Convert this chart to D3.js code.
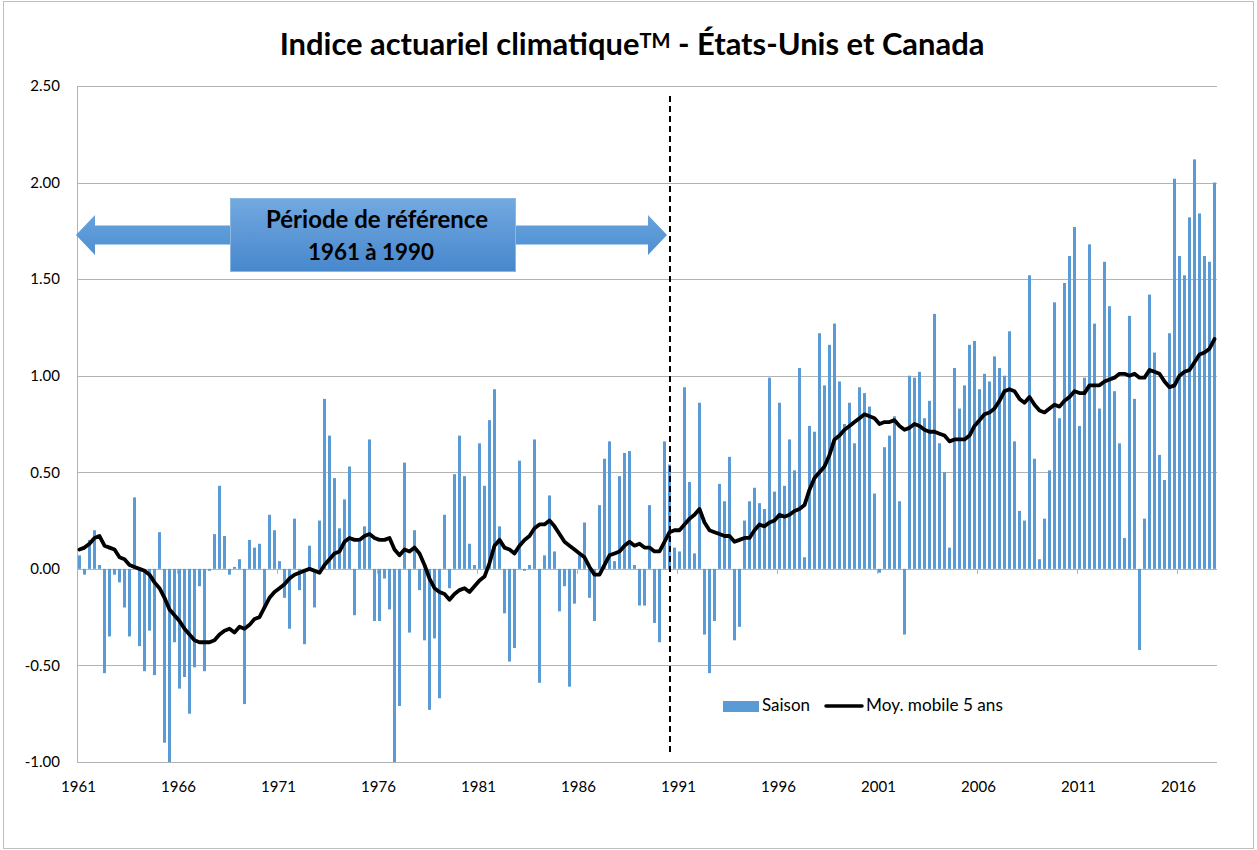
<!DOCTYPE html>
<html lang="fr">
<head>
  <meta charset="utf-8">
  <title>Indice actuariel climatique - États-Unis et Canada</title>
  <script src="https://d3js.org/d3.v7.min.js"></script>
  <style>
    body { margin: 0; background: #fff; }
    svg text { font-family: Lato, "Open Sans", sans-serif; fill: #000; }
  </style>
</head>
<body>
<svg id="chart" width="1257" height="850"></svg>
<script>

// valeurs saisonnieres, hiver 1961 -> automne 2017 (4 saisons par annee)
var saison = [
  0.07, -0.03, 0.15, 0.20, 0.02, -0.54, -0.35, -0.03, -0.07, -0.20, -0.35, 0.37, -0.40, -0.53, -0.32, -0.55, 0.19, -0.90, -1.00, -0.38,
  -0.62, -0.56, -0.75, -0.51, -0.09, -0.53, -0.01, 0.18, 0.43, 0.17, -0.03, 0.01, 0.05, -0.70, 0.15, 0.11, 0.13, -0.20, 0.28, 0.20,
  0.04, -0.15, -0.31, 0.26, -0.11, -0.39, 0.12, -0.20, 0.25, 0.88, 0.69, 0.47, 0.21, 0.36, 0.53, -0.24, 0.14, 0.22, 0.67, -0.27,
  -0.27, -0.05, -0.21, -1.00, -0.71, 0.55, -0.33, 0.20, -0.11, -0.37, -0.73, -0.36, -0.67, 0.28, -0.10, 0.49, 0.69, 0.48, 0.13, 0.02,
  0.65, 0.43, 0.77, 0.93, 0.22, -0.23, -0.48, -0.41, 0.56, -0.01, 0.02, 0.67, -0.59, 0.07, 0.38, 0.09, -0.22, -0.09, -0.61, -0.18,
  0.07, 0.24, -0.15, -0.27, 0.33, 0.57, 0.66, 0.04, 0.48, 0.60, 0.61, 0.02, -0.19, -0.19, 0.33, -0.28, -0.38, 0.66, 0.54, 0.11,
  0.09, 0.94, 0.45, 0.08, 0.86, -0.34, -0.54, -0.27, 0.44, 0.35, 0.58, -0.37, -0.30, 0.25, 0.35, 0.42, 0.34, 0.31, 0.99, 0.40,
  0.86, 0.43, 0.67, 0.51, 1.04, 0.06, 0.74, 0.71, 1.22, 0.95, 1.16, 1.27, 0.97, 0.75, 0.86, 0.65, 0.94, 0.91, 0.84, 0.39,
  -0.02, 0.63, 0.69, 0.79, 0.35, -0.34, 1.00, 0.99, 1.02, 0.78, 0.87, 1.32, 0.65, 0.50, 0.11, 1.04, 0.83, 0.95, 1.16, 1.18,
  0.93, 1.01, 0.97, 1.10, 1.04, 1.00, 1.23, 0.66, 0.30, 0.25, 1.52, 0.57, 0.05, 0.26, 0.51, 1.38, 0.78, 1.48, 1.62, 1.77,
  0.74, 0.99, 1.68, 1.27, 0.83, 1.59, 1.36, 0.92, 0.65, 0.16, 1.31, 0.88, -0.42, 0.26, 1.42, 1.12, 0.59, 0.46, 1.22, 2.02,
  1.62, 1.52, 1.82, 2.12, 1.84, 1.62, 1.59, 2.00
];

// moyenne mobile 5 ans
var moyMobile = [
  0.10, 0.11, 0.13, 0.16, 0.17, 0.12, 0.11, 0.10, 0.06, 0.05, 0.02, 0.01, 0.00, -0.01, -0.03, -0.07, -0.10, -0.15, -0.21, -0.24,
  -0.27, -0.31, -0.34, -0.37, -0.38, -0.38, -0.38, -0.37, -0.34, -0.32, -0.31, -0.33, -0.30, -0.31, -0.29, -0.26, -0.25, -0.20, -0.15, -0.12,
  -0.10, -0.08, -0.05, -0.03, -0.02, -0.01, 0.00, -0.01, -0.02, 0.02, 0.05, 0.08, 0.09, 0.14, 0.16, 0.15, 0.15, 0.17, 0.18, 0.16,
  0.15, 0.15, 0.16, 0.10, 0.07, 0.10, 0.09, 0.11, 0.08, 0.02, -0.05, -0.10, -0.12, -0.13, -0.16, -0.13, -0.11, -0.10, -0.12, -0.09,
  -0.06, -0.04, 0.03, 0.12, 0.15, 0.11, 0.10, 0.08, 0.12, 0.15, 0.17, 0.21, 0.23, 0.23, 0.25, 0.22, 0.18, 0.14, 0.12, 0.10,
  0.08, 0.06, 0.01, -0.03, -0.03, 0.02, 0.07, 0.08, 0.09, 0.12, 0.14, 0.12, 0.13, 0.11, 0.11, 0.09, 0.09, 0.14, 0.19, 0.20,
  0.20, 0.23, 0.26, 0.28, 0.31, 0.24, 0.20, 0.19, 0.18, 0.17, 0.17, 0.14, 0.15, 0.16, 0.16, 0.20, 0.23, 0.22, 0.24, 0.25,
  0.28, 0.27, 0.28, 0.30, 0.31, 0.33, 0.41, 0.47, 0.50, 0.53, 0.59, 0.67, 0.69, 0.72, 0.74, 0.76, 0.78, 0.80, 0.79, 0.78,
  0.75, 0.76, 0.76, 0.77, 0.74, 0.72, 0.73, 0.75, 0.74, 0.72, 0.71, 0.71, 0.70, 0.69, 0.66, 0.67, 0.67, 0.67, 0.69, 0.74,
  0.77, 0.80, 0.81, 0.83, 0.87, 0.92, 0.93, 0.92, 0.88, 0.86, 0.89, 0.85, 0.82, 0.81, 0.83, 0.85, 0.84, 0.87, 0.89, 0.92,
  0.91, 0.91, 0.95, 0.95, 0.95, 0.97, 0.98, 0.99, 1.01, 1.01, 1.00, 1.01, 0.99, 0.99, 1.03, 1.02, 1.01, 0.97, 0.94, 0.95,
  1.00, 1.02, 1.03, 1.07, 1.11, 1.12, 1.14, 1.19
];

var yTicks = [-1.0, -0.5, 0.0, 0.5, 1.0, 1.5, 2.0, 2.5];
var yearLabels = ["1961", "1966", "1971", "1976", "1981", "1986", "1991", "1996", "2001", "2006", "2011", "2016"];
var labelEvery = 20;        // one label every 5 years = 20 seasons
var refLineIndex = 118.6;   // end of reference period (1961-1990)

var svg = d3.select("#chart"),
    margin = {top: 86, right: 40, bottom: 88, left: 77},
    width = +svg.attr("width"),
    height = +svg.attr("height");

var blue = "#5b9bd5";

// chart border
svg.append("rect")
    .attr("x", 3.5).attr("y", 1.5)
    .attr("width", width - 7).attr("height", height - 3)
    .attr("fill", "none")
    .attr("stroke", "#bfbfbf");

var x = d3.scaleBand()
    .domain(d3.range(saison.length))
    .range([margin.left, width - margin.right])
    .paddingInner(0.4)
    .paddingOuter(0.2);

var y = d3.scaleLinear()
    .domain([-1, 2.5])
    .range([height - margin.bottom, margin.top]);

var fmt = d3.format(".2f");

// gridlines
svg.append("g")
    .selectAll("line")
    .data(yTicks)
  .enter().append("line")
    .attr("x1", margin.left)
    .attr("x2", width - margin.right)
    .attr("y1", d => Math.round(y(d)) + 0.5)
    .attr("y2", d => Math.round(y(d)) + 0.5)
    .attr("stroke", "#b3b3b3")
    .attr("stroke-width", 1);

// left axis line
svg.append("line")
    .attr("x1", margin.left + 0.5).attr("x2", margin.left + 0.5)
    .attr("y1", y(2.5)).attr("y2", y(-1))
    .attr("stroke", "#b3b3b3");

// y labels
svg.append("g")
    .selectAll("text")
    .data(yTicks)
  .enter().append("text")
    .attr("x", 60)
    .attr("y", d => y(d))
    .attr("dy", "0.35em")
    .attr("text-anchor", "end")
    .style("font-size", "15px")
    .text(d => fmt(d).replace("\u2212", "-"));

// tick marks on the zero axis
var tickIdx = d3.range(0, saison.length + 1, labelEvery);
svg.append("g")
    .selectAll("line")
    .data(tickIdx)
  .enter().append("line")
    .attr("x1", d => Math.round(x.range()[0] + d * x.step()) + 0.5)
    .attr("x2", d => Math.round(x.range()[0] + d * x.step()) + 0.5)
    .attr("y1", y(0))
    .attr("y2", y(0) + 5)
    .attr("stroke", "#b3b3b3");

// x labels
svg.append("g")
    .selectAll("text")
    .data(yearLabels)
  .enter().append("text")
    .attr("x", (d, k) => x(k * labelEvery) + x.bandwidth() / 2 - 1)
    .attr("y", 792)
    .attr("text-anchor", "middle")
    .style("font-size", "15px")
    .text(d => d);

// bars
svg.append("g")
    .selectAll("rect")
    .data(saison)
  .enter().append("rect")
    .attr("x", (d, i) => x(i))
    .attr("width", x.bandwidth())
    .attr("y", d => y(Math.max(0, d)))
    .attr("height", d => Math.abs(y(d) - y(0)))
    .attr("fill", blue);

// reference period end (dashed)
var refX = x.range()[0] + refLineIndex * x.step();
svg.append("line")
    .attr("x1", refX).attr("x2", refX)
    .attr("y1", 96).attr("y2", 756)
    .attr("stroke", "#000")
    .attr("stroke-width", 2)
    .attr("stroke-dasharray", "6,4");

// moving average
var line = d3.line()
    .x((d, i) => x(i) + x.bandwidth() / 2)
    .y(d => y(d));

svg.append("path")
    .datum(moyMobile)
    .attr("d", line)
    .attr("fill", "none")
    .attr("stroke", "#000")
    .attr("stroke-width", 3.8)
    .attr("stroke-linejoin", "round")
    .attr("stroke-linecap", "round");

// ---- reference period annotation ----
var defs = svg.append("defs");
var g1 = defs.append("linearGradient").attr("id", "boxGrad")
    .attr("x1", 0).attr("y1", 0).attr("x2", 0).attr("y2", 1);
g1.append("stop").attr("offset", "0%").attr("stop-color", "#72a9e0");
g1.append("stop").attr("offset", "100%").attr("stop-color", "#4787cc");
var g2 = defs.append("linearGradient").attr("id", "arrowGrad")
    .attr("x1", 0).attr("y1", 0).attr("x2", 0).attr("y2", 1);
g2.append("stop").attr("offset", "0%").attr("stop-color", "#66a2dc");
g2.append("stop").attr("offset", "100%").attr("stop-color", "#4f90d2");

var aL = x.range()[0] - 1, aR = refX - 3, aY = 235;
var headW = 19, headH = 20, shaftH = 9.5;
svg.append("path")
    .attr("d", [
      "M", aL, aY,
      "L", aL + headW, aY - headH,
      "L", aL + headW, aY - shaftH,
      "L", aR - headW, aY - shaftH,
      "L", aR - headW, aY - headH,
      "L", aR, aY,
      "L", aR - headW, aY + headH,
      "L", aR - headW, aY + shaftH,
      "L", aL + headW, aY + shaftH,
      "L", aL + headW, aY + headH,
      "Z"].join(" "))
    .attr("fill", "url(#arrowGrad)");

svg.append("rect")
    .attr("x", 230.5).attr("y", 198.5)
    .attr("width", 285).attr("height", 73)
    .attr("fill", "url(#boxGrad)")
    .attr("stroke", "#8db6e3")
    .attr("stroke-width", 1);

var boxT1 = svg.append("text")
    .attr("x", 377).attr("y", 228)
    .attr("text-anchor", "middle")
    .style("font-size", "21px").style("font-weight", "bold")
    .text("Période de référence");
var boxT2 = svg.append("text")
    .attr("x", 371).attr("y", 260)
    .attr("text-anchor", "middle")
    .style("font-size", "21px").style("font-weight", "bold")
    .text("1961 à 1990");

// title
var title = svg.append("text")
    .attr("x", 632).attr("y", 55)
    .attr("text-anchor", "middle")
    .style("font-size", "26px").style("font-weight", "bold");
title.append("tspan").text("Indice actuariel climatique");
title.append("tspan").attr("dy", "-0.35em").style("font-size", "0.65em").text("TM");
title.append("tspan").attr("dy", "0.23em").text(" - États-Unis et Canada");

// legend
svg.append("rect")
    .attr("x", 723).attr("y", 701)
    .attr("width", 36).attr("height", 11)
    .attr("fill", blue);
var leg1 = svg.append("text")
    .attr("x", 762).attr("y", 711)
    .style("font-size", "14.5px")
    .text("Saison");
svg.append("line")
    .attr("x1", 826).attr("x2", 862)
    .attr("y1", 706).attr("y2", 706)
    .attr("stroke", "#000").attr("stroke-width", 3.5)
    .attr("stroke-linecap", "round");
var leg2 = svg.append("text")
    .attr("x", 866).attr("y", 711)
    .style("font-size", "14.5px")
    .text("Moy. mobile 5 ans");

// fit text widths to the reference
function fitWidth(sel, target) {
  var w = sel.node().getBBox().width;
  var fs = parseFloat(sel.style("font-size"));
  sel.style("font-size", (fs * target / w) + "px");
}
fitWidth(boxT1, 222);
fitWidth(boxT2, 126);
fitWidth(leg2, 137);
fitWidth(leg1, 48);
fitWidth(title, 705);

</script>
</body>
</html>
